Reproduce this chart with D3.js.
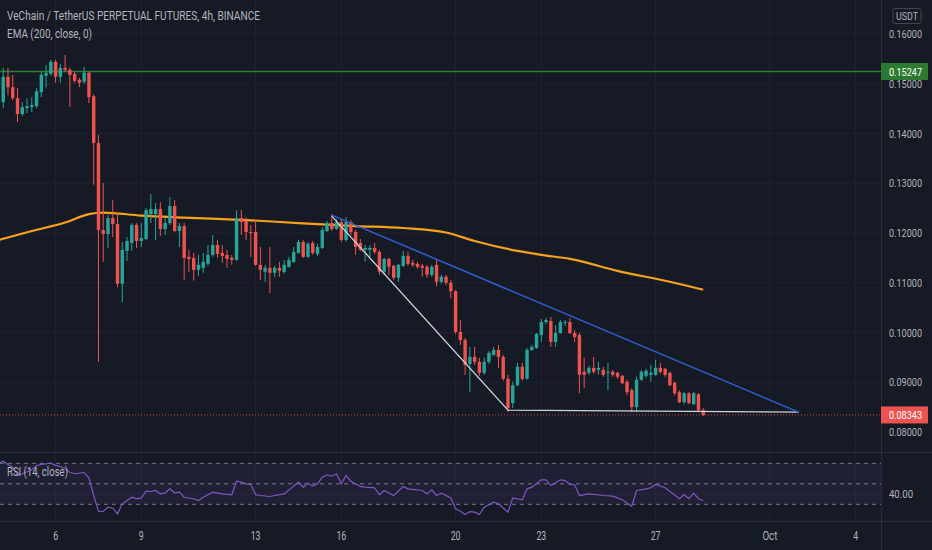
<!DOCTYPE html>
<meta charset="utf-8">
<script src="https://d3js.org/d3.v7.min.js"></script>
<style>
  body { margin: 0; background: #161a25; }
  svg text { font-family: "Roboto", "Noto Sans", sans-serif; }
</style>
<body>
<svg id="chart" width="932" height="550"></svg>
<script>

// ---- data (4h candles, VET/USDT perp) ----
const firstBar = Date.UTC(2021, 8, 4, 4);   // Sep 4 04:00
const barMs = 4 * 3600 * 1000;

const opens = [.1463,.1514,.1493,.1471,.1439,.1451,.1453,.1455,.1483,.1516,.1520,.1544,.1514,.1532,.1528,.1520,.1508,.1504,.1522,.1475,
  .1381,.1206,.1198,.1230,.1218,.1098,.1164,.1180,.1216,.1184,.1188,.1238,.1238,.1248,.1208,.1220,.1254,.1204,.1214,.1152,
  .1150,.1126,.1130,.1138,.1156,.1176,.1160,.1156,.1150,.1146,.1230,.1224,.1202,.1202,.1136,.1122,.1130,.1120,.1130,.1122,
  .1132,.1142,.1160,.1182,.1152,.1180,.1158,.1170,.1204,.1220,.1208,.1222,.1186,.1222,.1202,.1180,.1166,.1166,.1170,.1162,
  .1122,.1148,.1134,.1110,.1134,.1154,.1140,.1138,.1134,.1132,.1116,.1136,.1102,.1112,.1100,.1083,.1001,.0985,.0937,.0951,
  .0941,.0919,.0941,.0955,.0965,.0951,.0907,.0858,.0894,.0931,.0907,.0965,.0969,.0995,.1021,.1023,.0981,.0999,.1019,.1021,
  .0999,.0995,.0921,.0919,.0929,.0925,.0925,.0919,.0921,.0919,.0913,.0901,.0884,.0850,.0905,.0913,.0915,.0915,.0929,.0927,
  .0919,.0899,.0880,.0860,.0878,.0856,.0876,.0844];
const highs = [.1532,.1532,.1518,.1491,.1463,.1471,.1473,.1491,.1524,.1538,.1548,.1548,.1540,.1558,.1532,.1524,.1512,.1534,.1524,.1479,
  .1397,.1301,.1236,.1266,.1240,.1182,.1192,.1220,.1220,.1220,.1250,.1278,.1260,.1262,.1230,.1272,.1266,.1220,.1220,.1166,
  .1160,.1156,.1160,.1176,.1196,.1186,.1176,.1166,.1156,.1246,.1246,.1232,.1216,.1226,.1172,.1136,.1172,.1134,.1142,.1146,
  .1152,.1172,.1186,.1186,.1182,.1184,.1178,.1212,.1224,.1238,.1228,.1228,.1232,.1226,.1206,.1188,.1176,.1176,.1180,.1166,
  .1150,.1150,.1136,.1138,.1164,.1162,.1146,.1142,.1138,.1136,.1136,.1146,.1116,.1116,.1106,.1085,.1025,.0989,.0971,.0971,
  .0949,.0949,.0963,.0971,.0975,.0955,.0915,.0901,.0939,.0939,.0969,.0975,.0999,.1027,.1029,.1031,.1015,.1025,.1025,.1029,
  .1005,.0999,.0949,.0933,.0951,.0941,.0931,.0939,.0925,.0921,.0915,.0905,.0888,.0911,.0925,.0927,.0935,.0945,.0939,.0929,
  .0921,.0901,.0884,.0880,.0880,.0880,.0878,.0848];
const lows = [.1451,.1477,.1467,.1423,.1435,.1441,.1443,.1451,.1473,.1493,.1516,.1502,.1502,.1524,.1453,.1502,.1493,.1500,.1461,.1297,
  .0941,.1142,.1170,.1192,.1091,.1061,.1144,.1164,.1170,.1172,.1186,.1220,.1186,.1194,.1196,.1216,.1202,.1172,.1106,.1122,
  .1104,.1114,.1120,.1134,.1152,.1150,.1140,.1130,.1136,.1144,.1196,.1186,.1152,.1134,.1106,.1102,.1079,.1112,.1112,.1118,
  .1130,.1140,.1158,.1150,.1150,.1156,.1154,.1168,.1202,.1204,.1206,.1182,.1182,.1196,.1156,.1164,.1142,.1152,.1158,.1116,
  .1116,.1116,.1106,.1102,.1132,.1134,.1132,.1128,.1112,.1110,.1112,.1093,.1098,.1095,.1069,.0997,.0975,.0915,.0880,.0935,
  .0913,.0915,.0937,.0953,.0929,.0903,.0840,.0848,.0892,.0903,.0905,.0963,.0967,.0981,.1017,.0971,.0971,.0997,.1013,.0997,
  .0981,.0878,.0888,.0915,.0917,.0915,.0911,.0884,.0911,.0907,.0896,.0874,.0840,.0840,.0903,.0909,.0901,.0913,.0917,.0911,
  .0892,.0874,.0858,.0856,.0856,.0854,.0840,.0832];
const closes = [.1514,.1493,.1471,.1439,.1453,.1455,.1457,.1485,.1518,.1522,.1544,.1514,.1532,.1528,.1518,.1506,.1502,.1522,.1473,.1381,
  .1206,.1198,.1230,.1218,.1098,.1166,.1184,.1216,.1184,.1190,.1246,.1248,.1248,.1208,.1220,.1254,.1204,.1214,.1150,.1148,
  .1126,.1136,.1142,.1156,.1176,.1158,.1154,.1148,.1146,.1230,.1222,.1202,.1200,.1136,.1126,.1130,.1120,.1130,.1124,.1136,
  .1146,.1162,.1182,.1152,.1178,.1160,.1172,.1206,.1220,.1208,.1222,.1186,.1222,.1202,.1172,.1166,.1170,.1170,.1162,.1122,
  .1148,.1132,.1110,.1136,.1154,.1138,.1136,.1132,.1130,.1116,.1132,.1102,.1112,.1100,.1083,.1001,.0985,.0935,.0951,.0941,
  .0919,.0941,.0959,.0965,.0951,.0907,.0848,.0894,.0931,.0907,.0965,.0971,.0997,.1021,.1025,.0981,.0999,.1021,.1021,.0999,
  .0991,.0915,.0915,.0929,.0921,.0929,.0915,.0921,.0915,.0911,.0898,.0880,.0850,.0905,.0921,.0923,.0919,.0929,.0921,.0915,
  .0894,.0878,.0860,.0878,.0858,.0878,.0844,.08343];

// EMA 200 read at some bars (bar index, price)
const emaIdx = [-1, 6, 13, 18, 21, 29, 38, 51, 62, 74, 84, 93, 99, 108, 113, 119, 129, 140, 147];
const emaVal = [.1186,.1204,.1221,.1238,.1241,.1235,.1231,.1226,.1220,.1214,.1210,.1201,.1184,.1164,.1156,.1148,.1124,.1102,.1086];

// RSI 14 (bar index, value)
const rsiIdx = [-1,0,1,2,3,4,6,7,8,10,11,12,13,14,15,17,18,19,20,21,22,23,24,25,26,27,28,29,30,31,32,33,34,35,36,37,38,40,41,42,44,46,48,
  49,50,51,52,53,54,56,57,59,60,62,63,64,65,66,67,68,69,70,71,72,73,75,76,78,79,80,82,84,85,88,89,90,91,92,94,95,96,97,98,99,100,
  101,103,104,106,107,109,110,111,113,114,115,117,118,119,120,121,123,126,128,130,132,133,135,136,137,139,142,143,144,145,146,147];
const rsiVal = [70.1,72,68.8,66,58.8,59.8,63.7,67.9,68.8,70.1,67.9,66.9,64.6,61.3,59.8,61,55.9,38.6,23.3,23,27.2,26.2,20.7,30.5,33.7,36.9,35.4,36.3,42.8,42.5,43.5,40.2,41.2,45.1,41.2,41.8,36.9,35.4,33.7,36.9,41.8,40.2,39.3,
  52.5,51.6,50,49.3,39.3,38.6,37.6,38.6,40.2,44.1,51.6,46.7,50.6,47.7,50,56.4,58.8,57.4,59.8,50,58.1,52.5,47.4,46.7,46.1,39.3,43.5,38.6,47.4,45.1,43.5,40.2,44.1,38.6,40.8,36.3,25.6,23.3,20,22.9,22.3,20,
  27.2,32.1,30.5,22.3,36.3,34.4,45.1,46.7,53.9,53.9,48.3,53.9,53.2,49.3,49,38.6,40.2,38.6,37.9,34.4,28.1,43.5,45.1,46.1,49.3,46.1,35.4,39.6,35.4,40.8,35.4,33.7];

// drawings
const hLinePrice = 0.15247;
const lastPrice = 0.08343;
const blueLine = { idx: [69, 167], price: [.1236, .0840] };
const whiteLine = { idx: [69, 106, 167], price: [.1234, .0844, .0840] };

const priceTicks = [0.08, 0.09, 0.10, 0.11, 0.12, 0.13, 0.14, 0.15, 0.16];
const timeTicks = [Date.UTC(2021,8,6), Date.UTC(2021,8,9), Date.UTC(2021,8,13), Date.UTC(2021,8,16), Date.UTC(2021,8,20),
  Date.UTC(2021,8,23), Date.UTC(2021,8,27), Date.UTC(2021,9,1), Date.UTC(2021,9,4)];
const timeLabels = ["6", "9", "13", "16", "20", "23", "27", "Oct", "4"];

// ---- layout ----
const svg = d3.select("#chart");
const W = 932, H = 550, axisX = 881;
const mainBottom = 452, rsiTop = 453, rsiBottom = 521;
const textCol = "#b2b5be", gridCol = "#1f2331", sepCol = "#2a2e39";
const up = "#26a69a", down = "#ef5350";

svg.append("rect").attr("width", W).attr("height", H).attr("fill", "#161a25");

const x = d3.scaleTime()
  .domain([Date.UTC(2021,8,6), Date.UTC(2021,9,4)])
  .range([55.6, 855.6]);
const barX = i => x(firstBar + i * barMs);
const y = d3.scaleLinear().domain([0.08, 0.16]).range([432, 34]);
const yr = d3.scaleLinear().domain([30, 70]).range([504.3, 463.3]);

// narrow text helper (chart font is condensed)
function label(g, tx, ty, str, size, len, col) {
  return g.append("text").attr("x", tx).attr("y", ty).attr("fill", col || textCol)
    .attr("font-size", size).attr("textLength", len).attr("lengthAdjust", "spacingAndGlyphs").text(str);
}

const defs = svg.append("defs");
defs.append("clipPath").attr("id", "clipMain").append("rect").attr("x", 0).attr("y", 0).attr("width", axisX).attr("height", mainBottom);
defs.append("clipPath").attr("id", "clipRsi").append("rect").attr("x", 0).attr("y", rsiTop).attr("width", axisX).attr("height", rsiBottom - rsiTop);

// grid
const grid = svg.append("g");
grid.selectAll(".vg").data(timeTicks).join("line")
  .attr("x1", d => x(d)).attr("x2", d => x(d)).attr("y1", 0).attr("y2", rsiBottom)
  .attr("stroke", gridCol);
grid.selectAll(".hg").data(priceTicks).join("line")
  .attr("x1", 0).attr("x2", axisX).attr("y1", d => y(d)).attr("y2", d => y(d))
  .attr("stroke", gridCol);
grid.append("line").attr("x1", 0).attr("x2", axisX).attr("y1", yr(40)).attr("y2", yr(40)).attr("stroke", gridCol);

// main pane
const main = svg.append("g").attr("clip-path", "url(#clipMain)");

// green horizontal line
main.append("line").attr("x1", 0).attr("x2", axisX).attr("y1", y(hLinePrice)).attr("y2", y(hLinePrice))
  .attr("stroke", "#2e7d32").attr("stroke-width", 1.5);

// EMA
main.append("path")
  .datum(d3.range(emaIdx.length))
  .attr("d", d3.line().x(k => barX(emaIdx[k])).y(k => y(emaVal[k])).curve(d3.curveMonotoneX))
  .attr("fill", "none").attr("stroke", "#f7a21b").attr("stroke-width", 2.2);

// candles
const bars = d3.range(closes.length);
const bw = 3.4;
const cg = main.append("g");
cg.selectAll(".wick").data(bars).join("line")
  .attr("x1", i => barX(i)).attr("x2", i => barX(i))
  .attr("y1", i => y(highs[i])).attr("y2", i => y(lows[i]))
  .attr("stroke", i => closes[i] >= opens[i] ? up : down).attr("stroke-width", 1);
cg.selectAll(".body").data(bars).join("rect")
  .attr("x", i => barX(i) - bw / 2).attr("width", bw)
  .attr("y", i => y(Math.max(opens[i], closes[i])))
  .attr("height", i => Math.max(1, Math.abs(y(opens[i]) - y(closes[i]))))
  .attr("fill", i => closes[i] >= opens[i] ? up : down);

// trend lines
const tl = d3.line().x(d => barX(d[0])).y(d => y(d[1]));
main.append("path").datum(d3.zip(whiteLine.idx, whiteLine.price)).attr("d", tl)
  .attr("fill", "none").attr("stroke", "#d1d4dc").attr("stroke-width", 1.3);
main.append("path").datum(d3.zip(blueLine.idx, blueLine.price)).attr("d", tl)
  .attr("fill", "none").attr("stroke", "#2f5fd6").attr("stroke-width", 1.5);

// last price dotted line
main.append("line").attr("x1", 0).attr("x2", axisX).attr("y1", y(lastPrice)).attr("y2", y(lastPrice))
  .attr("stroke", down).attr("stroke-opacity", 0.8).attr("stroke-dasharray", "1,2");

// legend text
label(svg, 7, 20, "VeChain / TetherUS PERPETUAL FUTURES, 4h, BINANCE", 12, 253);
label(svg, 7, 38, "EMA (200, close, 0)", 12, 85);

// RSI pane
const rsi = svg.append("g").attr("clip-path", "url(#clipRsi)");
rsi.append("rect").attr("x", 0).attr("width", axisX).attr("y", yr(70)).attr("height", yr(30) - yr(70))
  .attr("fill", "#7e57c2").attr("fill-opacity", 0.1);
rsi.selectAll(".rl").data([70, 50, 30]).join("line")
  .attr("x1", 0).attr("x2", axisX).attr("y1", d => yr(d)).attr("y2", d => yr(d))
  .attr("stroke", "#787b86").attr("stroke-dasharray", "4,4");
rsi.append("path").datum(d3.range(rsiIdx.length))
  .attr("d", d3.line().x(k => barX(rsiIdx[k])).y(k => yr(rsiVal[k])))
  .attr("fill", "none").attr("stroke", "#7e57c2").attr("stroke-width", 1.2);
label(svg, 7, 476, "RSI (14, close)", 12, 61);

// separators
svg.append("line").attr("x1", axisX + 0.5).attr("x2", axisX + 0.5).attr("y1", 0).attr("y2", H).attr("stroke", sepCol);
svg.append("line").attr("x1", 0).attr("x2", W).attr("y1", mainBottom + 0.5).attr("y2", mainBottom + 0.5).attr("stroke", sepCol);
svg.append("line").attr("x1", 0).attr("x2", W).attr("y1", rsiBottom + 0.5).attr("y2", rsiBottom + 0.5).attr("stroke", sepCol);

// price axis
const fmt = d3.format(".5f");
const pax = svg.append("g");
priceTicks.forEach(p => label(pax, 889, y(p) + 4, fmt(p), 11.5, 33));
label(pax, 889, yr(40) + 4, "40.00", 11.5, 24);

// USDT box
svg.append("rect").attr("x", 893).attr("y", 8.5).attr("width", 28).attr("height", 15).attr("rx", 2)
  .attr("fill", "#161a25").attr("stroke", "#434651");
label(svg, 896, 20, "USDT", 10.5, 22);

// price labels
function priceTag(p, col) {
  svg.append("rect").attr("x", 881).attr("y", y(p) - 8.5).attr("width", 47).attr("height", 17).attr("fill", col);
  label(svg, 889, y(p) + 4.5, fmt(p), 11.5, 33, "#fff");
}
priceTag(hLinePrice, "#2b7a2f");
priceTag(lastPrice, down);

// time axis
const tax = svg.append("g");
timeTicks.forEach((d, i) => {
  const s = timeLabels[i];
  const len = s === "Oct" ? 15 : s.length * 4.9;
  label(tax, x(d) - len / 2, 540, s, 12, len);
});

</script>
</body>
